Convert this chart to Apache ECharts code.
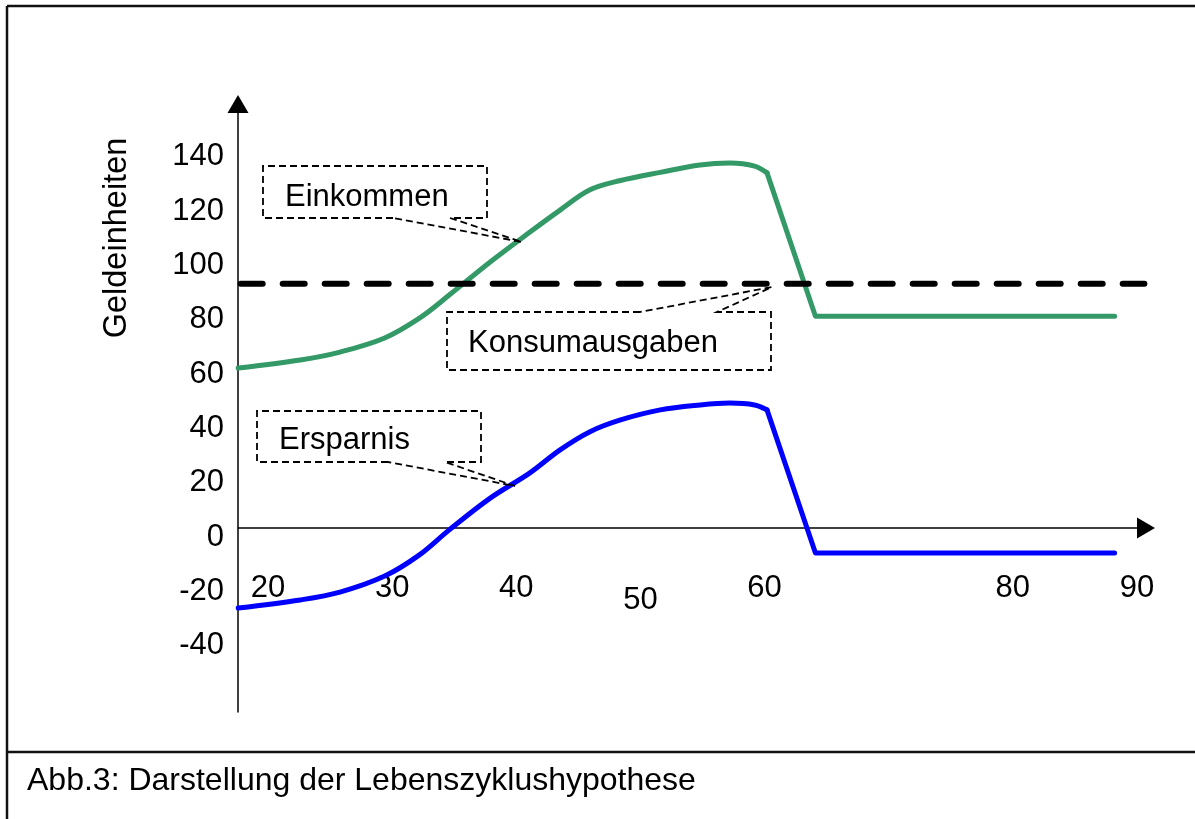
<!DOCTYPE html>
<html><head><meta charset="utf-8">
<script src="https://cdn.jsdelivr.net/npm/echarts@6/dist/echarts.min.js"></script>
<style>html,body{margin:0;padding:0;background:#fff}#c{width:1195px;height:819px}</style>
</head><body><div id="c"></div>
<script>
// ---- data ----
const ages       = [17.6, 22.6, 25.8, 29.4, 32.2, 34.6, 37.9, 41.1, 43.5, 45.9, 48.4, 51.6, 54.8, 57.2, 59.2, 60.2, 64.1, 88.2];
const einkommen  = [58.9, 61.9, 64.8, 70.0, 77.3, 85.8, 98.0, 109.0, 117.0, 124.5, 128.0, 131.0, 133.7, 134.4, 133.3, 130.8, 78.0, 78.0];
const ersparnis  = [-29.5, -26.5, -23.6, -17.7, -9.9, -0.7, 11.0, 20.3, 28.7, 35.4, 39.8, 43.5, 45.3, 46.0, 45.3, 43.5, -9.2, -9.2];
const konsumAges = [17.8, 90.6];
const konsum     = [90, 90];
const peakIndex  = 15; // last point of smooth part
const xTicks = [20, 30, 40, 50, 60, 80, 90];
const yTicks = [-40, -20, 0, 20, 40, 60, 80, 100, 120, 140];
const labels = { einkommen: 'Einkommen', konsum: 'Konsumausgaben', ersparnis: 'Ersparnis' };
const yTitle = 'Geldeinheiten';
const caption = 'Abb.3: Darstellung der Lebenszyklushypothese';

const FONT = 'Liberation Sans, Arial, sans-serif';
const zip = (a, b) => a.map((v, i) => [v, b[i]]);
const einkPts = zip(ages, einkommen);
const ersPts = zip(ages, ersparnis);

const GREEN = '#339966', BLUE = '#0000ff';
function lineSeries(data, color, smooth) {
  return { type: 'line', data, smooth, showSymbol: false, silent: true, z: 3,
    lineStyle: { color, width: 5, cap: 'round', join: 'round' } };
}
const dashStyle = { stroke: '#000', lineWidth: 1.8, lineDash: [7, 4], fill: null };
function callout(points) { return { type: 'polyline', shape: { points }, style: dashStyle, z: 10, silent: true }; }
function txt(text, x, y, size, extra) {
  return Object.assign({ type: 'text', x, y, z: 10, silent: true,
    style: { text, fill: '#000', font: size + 'px ' + FONT, textAlign: 'left', textVerticalAlign: 'middle' } }, extra || {});
}

const chart = echarts.init(document.getElementById('c'), null, { renderer: 'canvas' });
chart.setOption({
  animation: false,
  backgroundColor: '#fff',
  grid: { left: 238, right: 49, top: 104, bottom: 107, containLabel: false },
  xAxis: {
    type: 'value', min: 17.583, max: 90.73,
    axisLine: { onZero: true, symbol: ['none', 'triangle'], symbolSize: [21, 18], lineStyle: { color: '#000', width: 1.5 } },
    axisTick: { show: false }, splitLine: { show: false },
    axisLabel: {
      customValues: xTicks, margin: -139, color: '#000', fontSize: 31, fontFamily: FONT,
      formatter: v => v === 50 ? '{d|50}' : '{n|' + v + '}',
      rich: {
        n: { fontSize: 31, fontFamily: FONT, color: '#000' },
        d: { padding: [12, 0, 0, 0], fontSize: 31, fontFamily: FONT, color: '#000' }
      }
    }
  },
  yAxis: {
    type: 'value', min: -67.77, max: 156.17,
    axisLine: { show: true, symbol: ['none', 'triangle'], symbolSize: [21, 18], lineStyle: { color: '#000', width: 1.5 } },
    axisTick: { show: false }, splitLine: { show: false },
    axisLabel: {
      customValues: yTicks, margin: 14, color: '#000', fontSize: 31, fontFamily: FONT,
      formatter: v => '{a|' + v + '}',
      rich: { a: { padding: [18, 0, 0, 0], fontSize: 31, fontFamily: FONT, color: '#000' } }
    }
  },
  series: [
    { type: 'line', data: zip(konsumAges, konsum), showSymbol: false, silent: true, z: 4,
      lineStyle: { color: '#000', width: 6, type: [22, 20], cap: 'round' } },
    lineSeries(einkPts.slice(0, peakIndex + 1), GREEN, 0.35),
    lineSeries(einkPts.slice(peakIndex), GREEN, false),
    lineSeries(ersPts.slice(0, peakIndex + 1), BLUE, 0.35),
    lineSeries(ersPts.slice(peakIndex), BLUE, false)
  ],
  graphic: [
    { type: 'line', shape: { x1: 7, y1: 6, x2: 1195, y2: 6 }, style: { stroke: '#111', lineWidth: 2.5 }, silent: true },
    { type: 'line', shape: { x1: 7, y1: 6, x2: 7, y2: 819 }, style: { stroke: '#111', lineWidth: 2.5 }, silent: true },
    { type: 'line', shape: { x1: 7, y1: 752, x2: 1195, y2: 752 }, style: { stroke: '#111', lineWidth: 2.5 }, silent: true },
    txt(caption, 27, 781, 32),
    { type: 'text', x: 117, y: 238, rotation: Math.PI / 2, z: 10, silent: true,
      style: { text: yTitle, fill: '#000', font: '32.5px ' + FONT, textAlign: 'center', textVerticalAlign: 'middle' } },
    callout([[393, 218], [263, 218], [263, 166], [487, 166], [487, 218], [450, 218], [522, 242], [393, 218]]),
    txt(labels.einkommen, 285, 197, 31),
    callout([[640, 312], [447, 312], [447, 370], [771, 370], [771, 312], [717, 312], [772, 287], [640, 312]]),
    txt(labels.konsum, 468, 343, 31),
    callout([[388, 462], [257, 462], [257, 411], [481, 411], [481, 462], [445, 462], [515, 486], [388, 462]]),
    txt(labels.ersparnis, 279, 440, 31)
  ]
});
</script></body></html>
